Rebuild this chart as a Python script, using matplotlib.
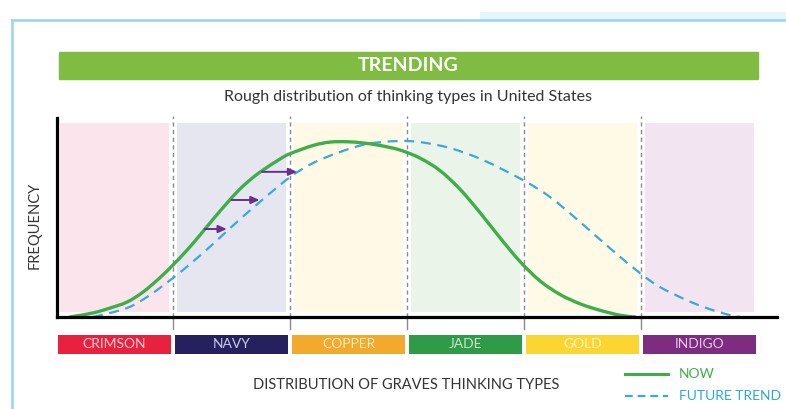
import matplotlib
matplotlib.use("Agg")
import matplotlib.pyplot as plt
from matplotlib.lines import Line2D
from matplotlib.patches import Rectangle, PathPatch
from matplotlib.path import Path

plt.rcParams['font.family'] = ['Lato', 'DejaVu Sans']

# ---- data ----
categories = ["CRIMSON", "NAVY", "COPPER", "JADE", "GOLD", "INDIGO"]
box_colors = ["#E8213F", "#25215F", "#F3A92B", "#2F9A48", "#FBD531", "#7D2C80"]
text_colors = ["#F9CDD4", "#C9C9E2", "#FDEBC0", "#C6E7CC", "#FFF3C2", "#E4C9E6"]
band_colors = ["#FBE4EB", "#E6E6F1", "#FFF9E6", "#EAF4E8", "#FFFAE6", "#F2E4F1"]

now_x = [0.120, 0.316, 0.462, 0.607, 0.744, 0.889, 1.000, 1.120, 1.231, 1.342,
         1.462, 1.573, 1.675, 1.769, 1.915, 2.000, 2.197, 2.342, 2.487, 2.624,
         2.769, 2.940, 3.111, 3.282, 3.453, 3.624, 3.795, 3.966, 4.137, 4.308,
         4.479, 4.650, 4.821, 4.949]
now_y = [0.0, 2.3, 5.1, 8.5, 14.2, 22.4, 29.6, 38.0, 46.6, 55.5,
         64.8, 72.8, 78.8, 83.5, 89.8, 92.8, 97.5, 99.4, 99.6, 98.9,
         97.5, 94.9, 90.3, 83.2, 72.6, 59.3, 45.0, 31.5, 20.5, 12.8,
         7.5, 3.8, 1.0, 0.0]

future_x = [0.316, 0.607, 0.803, 1.000, 1.171, 1.342, 1.513, 1.744, 2.000, 2.197,
            2.427, 2.658, 2.915, 3.111, 3.368, 3.650, 3.991, 4.222, 4.453, 4.650,
            4.821, 5.009, 5.162, 5.393, 5.564, 5.735, 5.850]
future_y = [0.0, 5.1, 12.5, 22.2, 31.5, 41.5, 52.0, 65.5, 79.5, 87.5,
            93.8, 98.3, 100.0, 99.4, 96.0, 89.2, 77.8, 68.2, 55.5, 44.0,
            34.2, 24.0, 17.0, 9.5, 5.0, 1.5, 0.0]

# arrows: (x_start, x_end, y)
arrows = [(1.27, 1.46, 50.0), (1.50, 1.74, 66.5), (1.76, 2.06, 82.5)]


def smooth_path(xs, ys):
    """Catmull-Rom rendering of the read points as cubic Bezier segments."""
    pts = list(zip(xs, ys))
    n = len(pts)
    verts = [pts[0]]
    codes = [Path.MOVETO]
    for i in range(n - 1):
        p0 = pts[max(i - 1, 0)]
        p1 = pts[i]
        p2 = pts[i + 1]
        p3 = pts[min(i + 2, n - 1)]
        c1 = (p1[0] + (p2[0] - p0[0]) / 6, p1[1] + (p2[1] - p0[1]) / 6)
        c2 = (p2[0] - (p3[0] - p1[0]) / 6, p2[1] - (p3[1] - p1[1]) / 6)
        verts += [c1, c2, p2]
        codes += [Path.CURVE4] * 3
    return Path(verts, codes)


W, H = 786, 409
fig = plt.figure(figsize=(W / 100, H / 100), dpi=100)

left_px, right_px, top_px, bot_px = 57, 777, 118, 317
ax = fig.add_axes([left_px / W, 1 - bot_px / H, (right_px - left_px) / W, (bot_px - top_px) / H])
ax.set_xlim(0.0085, 6.162)
ax.set_ylim(0, 113.1)

for s in ["top", "right"]:
    ax.spines[s].set_visible(False)
for s in ["left", "bottom"]:
    ax.spines[s].set_linewidth(2.3)
    ax.spines[s].set_color("black")
    ax.spines[s].set_zorder(7)
ax.set_xticks([])
ax.set_yticks([])
ax.patch.set_alpha(0)

# background bands
for i, c in enumerate(band_colors):
    ax.bar(i + 0.5, 107.4, bottom=2.8, width=0.93, color=c, zorder=0)

# separators
for b in range(1, 6):
    ax.plot([b, b], [0, 114.5], ls=(0, (3, 2.5)), color="#8A8A8A", lw=1.0, zorder=1, clip_on=False)
    ax.plot([b, b], [0, -7], ls="-", color="#8A8A8A", lw=1.0, zorder=1, clip_on=False)

# category boxes
for i, (cat, bc, tc) in enumerate(zip(categories, box_colors, text_colors)):
    ax.bar(i + 0.5, 10.8, bottom=-21.0, width=0.965, color=bc, clip_on=False, zorder=2)
    ax.text(i + 0.5, -15.6, cat, ha="center", va="center", color=tc, fontsize=10,
            clip_on=False, zorder=3)

# curves
ax.add_patch(PathPatch(smooth_path(future_x, future_y), fill=False, edgecolor="#3AA8E0",
                       lw=1.6, ls=(0, (4.5, 3)), zorder=4))
ax.add_patch(PathPatch(smooth_path(now_x, now_y), fill=False, edgecolor="#3DAE49",
                       lw=2.4, zorder=5, capstyle="round", joinstyle="round"))

# arrows
for xs, xe, y in arrows:
    ax.annotate("", xy=(xe, y), xytext=(xs, y),
                arrowprops=dict(arrowstyle="-|>,head_length=0.5,head_width=0.22",
                                color="#6A2C8E", lw=1.4, shrinkA=0, shrinkB=0),
                zorder=6)

# axis labels
fig.text(35 / W, 1 - 225 / H, "FREQUENCY", rotation=90, ha="center", va="center",
         fontsize=10.5, color="#333333")
fig.text(406 / W, 1 - 385 / H, "DISTRIBUTION OF GRAVES THINKING TYPES", ha="center",
         va="center", fontsize=10.5, color="#333333")

# title banner
fig.patches.append(Rectangle((59 / W, 1 - 79 / H), (758 - 59) / W, 27 / H,
                             transform=fig.transFigure, color="#7FBC41", zorder=1))
fig.text(408 / W, 1 - 65.5 / H, "TRENDING", ha="center", va="center", fontsize=14,
         fontweight="bold", color="white", zorder=2)
fig.text(408 / W, 1 - 97 / H, "Rough distribution of thinking types in United States",
         ha="center", va="center", fontsize=11.5, color="#333333")

# legend
fig.add_artist(Line2D([625 / W, 668 / W], [1 - 374 / H, 1 - 374 / H], color="#3DAE49",
                      lw=2.2, transform=fig.transFigure))
fig.add_artist(Line2D([625 / W, 668 / W], [1 - 396 / H, 1 - 396 / H], color="#3AA8E0",
                      lw=1.6, ls=(0, (3.5, 2.2)), transform=fig.transFigure))
fig.text(679 / W, 1 - 374 / H, "NOW", ha="left", va="center", fontsize=10, color="#3DAE49")
fig.text(679 / W, 1 - 396 / H, "FUTURE TREND", ha="left", va="center", fontsize=10,
         color="#29A9E1")

# frame
fig.patches.append(Rectangle((480 / W, 1 - 20 / H), (786 - 480) / W, 8 / H,
                             transform=fig.transFigure, color="#E6F4FB", zorder=0, lw=0))
fig.add_artist(Line2D([12 / W, 1.0], [1 - 20 / H, 1 - 20 / H], color="#9AD4EE", lw=1.8,
                      transform=fig.transFigure))
fig.add_artist(Line2D([12 / W, 12 / W], [0, 1 - 20 / H], color="#9AD4EE", lw=1.8,
                      transform=fig.transFigure))

fig.savefig("out.png", dpi=100)
